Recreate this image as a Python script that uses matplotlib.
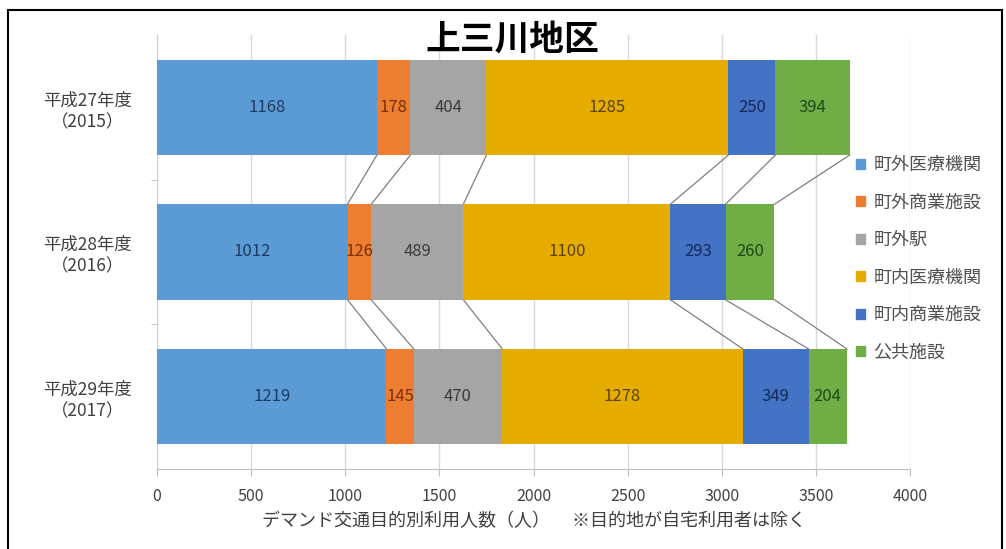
import numpy as np
import matplotlib.pyplot as plt
from matplotlib.patches import Patch, Rectangle

plt.rcParams['font.family'] = ['Noto Sans CJK JP', 'DejaVu Sans']

title = '上三川地区'
years = ['平成27年度\n（2015）', '平成28年度\n（2016）', '平成29年度\n（2017）']
series = ['町外医療機関', '町外商業施設', '町外駅', '町内医療機関', '町内商業施設', '公共施設']
values = [
    [1168, 1012, 1219],
    [178, 126, 145],
    [404, 489, 470],
    [1285, 1100, 1278],
    [250, 293, 349],
    [394, 260, 204],
]
colors = ['#5B9BD5', '#ED7D31', '#A5A5A5', '#E6AC00', '#4472C4', '#70AD47']
text_colors = ['#1F3A60', '#7A2E05', '#3A3A3A', '#5A4200', '#14285A', '#1E4A12']
xlabel = 'デマンド交通目的別利用人数（人）　 ※目的地が自宅利用者は除く'

fig = plt.figure(figsize=(10.06, 5.49), dpi=100)
ax = fig.add_axes([157/1006, 1-469/549, (910-157)/1006, (469-35)/549])

y = np.arange(len(years))
bh = 0.66
vals = np.array(values, dtype=float)
left = np.zeros(len(years))
for i, name in enumerate(series):
    ax.barh(y, vals[i], left=left, height=bh, color=colors[i], label=name, zorder=3)
    for j in range(len(years)):
        ax.text(left[j] + vals[i][j] / 2, y[j], str(int(vals[i][j])), ha='center', va='center',
                fontsize=12, color=text_colors[i], zorder=4)
    left = left + vals[i]

# connector lines between the bars
cum = np.cumsum(vals, axis=0)
for k in range(cum.shape[0]):
    for j in range(len(years) - 1):
        ax.plot([cum[k][j], cum[k][j+1]], [y[j] + bh/2, y[j+1] - bh/2],
                color='#7F7F7F', lw=0.9, zorder=2)

ax.set_xlim(0, 4000)
ax.set_ylim(2.5, -0.5)
ax.set_xticks(np.arange(0, 4001, 500))
ax.set_yticks(y)
ax.set_yticklabels(years, fontsize=12.5, color='#404040', ha='center', linespacing=1.25)
ax.tick_params(axis='y', length=0, pad=50)
ax.set_yticks([0.5, 1.5], minor=True)
ax.tick_params(axis='y', which='minor', length=4, color='#BFBFBF')
ax.tick_params(axis='x', length=5, color='#BFBFBF', labelsize=11.5, labelcolor='#404040', pad=9)
ax.grid(axis='x', color='#D9D9D9', lw=1, zorder=0)
for s in ['top', 'right']:
    ax.spines[s].set_visible(False)
ax.spines['left'].set_color('#D0D0D0')
ax.spines['bottom'].set_color('#BFBFBF')
ax.set_xlabel(xlabel, fontsize=13, color='#404040', labelpad=5)

fig.text(512/1006, 1-39/549, title, ha='center', va='center', fontsize=25, fontweight='bold')

handles = [Patch(color=c) for c in colors]
fig.legend(handles, series, loc='upper left', bbox_to_anchor=(849/1006, 1-149/549),
           frameon=False, fontsize=13, labelcolor='#505050', handlelength=0.5,
           handleheight=0.5, handletextpad=0.45, labelspacing=1.08, borderaxespad=0)

fig.patches.append(Rectangle((8/1006, -0.02), (1002-8)/1006, 1-10/549+0.02,
                             transform=fig.transFigure, fill=False, ec='black', lw=1.5))

fig.savefig('out.png', dpi=100)
